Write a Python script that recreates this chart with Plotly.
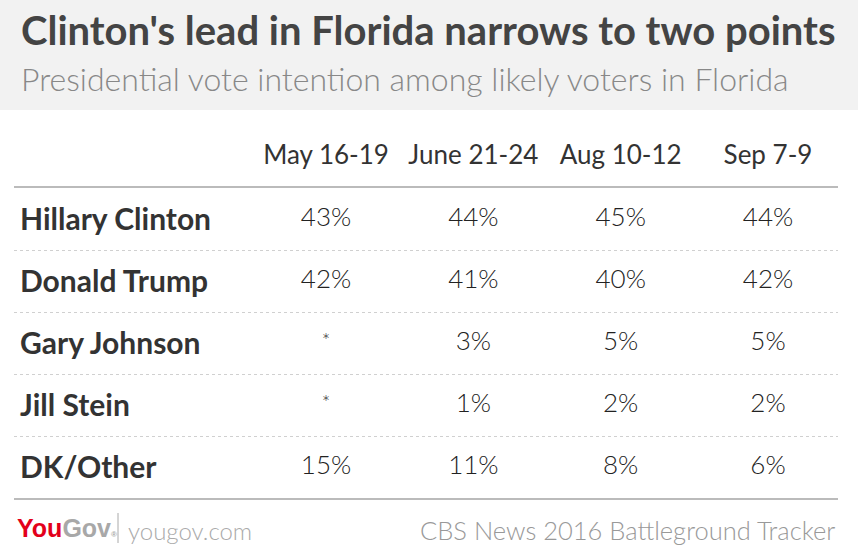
import plotly.graph_objects as go

# ---- data ----
candidates = ["Hillary Clinton", "Donald Trump", "Gary Johnson", "Jill Stein", "DK/Other"]
polls = ["May 16-19", "June 21-24", "Aug 10-12", "Sep 7-9"]
clinton = [43, 44, 45, 44]
trump = [42, 41, 40, 42]
johnson = [None, 3, 5, 5]
stein = [None, 1, 2, 2]
other = [15, 11, 8, 6]

title = "Clinton's lead in Florida narrows to two points"
subtitle = "Presidential vote intention among likely voters in Florida"
source = "CBS News 2016 Battleground Tracker"

W, H = 858, 558
L, R, T, B = 14, 20, 188, 60
PW, PH = W - L - R, H - T - B


def px(x):
    return (x - L) / PW


def py(y):
    return (H - B - y) / PH


rows = [clinton, trump, johnson, stein, other]
xs, ys, texts, sizes = [], [], [], []
for cand, row in zip(candidates, rows):
    for poll, v in zip(polls, row):
        xs.append(poll)
        ys.append(cand)
        if v is None:
            texts.append("*")
            sizes.append(20)
        else:
            texts.append(f"{v}%")
            sizes.append(26)

FONT = "Lato, 'Open Sans', sans-serif"

fig = go.Figure()
fig.add_trace(go.Scatter(
    x=xs, y=ys, text=texts, mode="text",
    textposition="middle center",
    textfont=dict(family=FONT, size=sizes, color="#222222", weight=300),
    hoverinfo="skip", showlegend=False,
))

fig.update_layout(
    width=W, height=H,
    margin=dict(l=L, r=R, t=T, b=B),
    paper_bgcolor="white", plot_bgcolor="white",
    xaxis=dict(
        type="category", categoryorder="array", categoryarray=polls,
        range=[-2.118, 3.475], side="top",
        showgrid=False, zeroline=False, ticks="",
        showline=True, mirror=True, linecolor="#bbbbbb", linewidth=2,
        tickfont=dict(family=FONT, size=26, color="#333333"),
        ticklabelstandoff=12,
        fixedrange=True,
    ),
    yaxis=dict(
        type="category", categoryorder="array", categoryarray=candidates,
        range=[4.5, -0.5], tickson="boundaries",
        showgrid=True, gridcolor="#d0d0d0", griddash="dot", gridwidth=1,
        zeroline=False, showline=False, ticks="",
        ticklabelposition="inside", ticklabelstandoff=3,
        tickfont=dict(family=FONT, size=30, color="#333333", weight="bold"),
        fixedrange=True,
    ),
    shapes=[
        dict(type="rect", xref="paper", yref="paper",
             x0=px(0), x1=px(W), y0=py(110), y1=py(0),
             fillcolor="#f2f2f2", line=dict(width=0), layer="below"),
        dict(type="line", xref="paper", yref="paper",
             x0=px(118), x1=px(118), y0=py(513), y1=py(543),
             line=dict(color="#aaaaaa", width=1)),
    ],
    annotations=[
        dict(text=title, xref="paper", yref="paper", x=px(19), y=py(30),
             xanchor="left", yanchor="middle", showarrow=False,
             font=dict(family=FONT, size=40, color="#444444", weight="bold")),
        dict(text=subtitle, xref="paper", yref="paper", x=px(19), y=py(78),
             xanchor="left", yanchor="middle", showarrow=False,
             font=dict(family=FONT, size=32, color="#888888", weight=300)),
        dict(text="<span style='color:#e3001b'>You</span><span style='color:#a8a8a8'>Gov</span><span style='font-size:8px'>®</span>",
             xref="paper", yref="paper", x=px(15), y=py(528),
             xanchor="left", yanchor="middle", showarrow=False,
             font=dict(family="'Liberation Sans Narrow', 'Liberation Sans', sans-serif",
                       size=25, color="#a8a8a8", weight="bold")),
        dict(text="yougov.com", xref="paper", yref="paper", x=px(126), y=py(530),
             xanchor="left", yanchor="middle", showarrow=False,
             font=dict(family=FONT, size=24, color="#aaaaaa", weight=300)),
        dict(text=source, xref="paper", yref="paper", x=px(837), y=py(530),
             xanchor="right", yanchor="middle", showarrow=False,
             font=dict(family=FONT, size=25.5, color="#999999", weight=300)),
    ],
)

fig.write_html("out.html", config={"displayModeBar": False},
               post_script="document.body.style.margin='0';")
